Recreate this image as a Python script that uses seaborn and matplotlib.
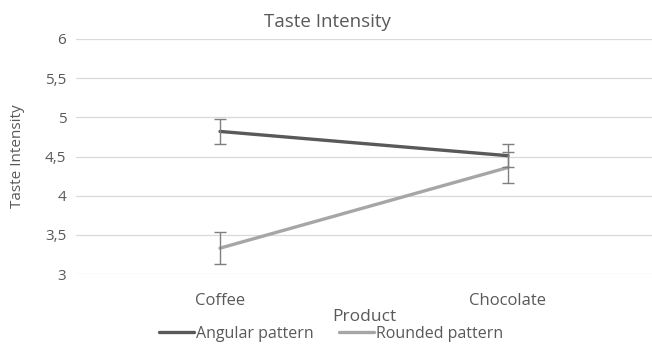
import numpy as np, pandas as pd
import matplotlib; matplotlib.use("Agg")
import matplotlib.pyplot as plt
from matplotlib.lines import Line2D
import seaborn as sns

products = ["Coffee", "Chocolate"]
angular = [4.82, 4.51]
angular_err = [0.16, 0.15]
rounded = [3.33, 4.36]
rounded_err = [0.20, 0.20]
yticks = [3, 3.5, 4, 4.5, 5, 5.5, 6]
ytick_labels = ["3", "3,5", "4", "4,5", "5", "5,5", "6"]

sns.set_style("white")
plt.rcParams["font.family"] = ["Open Sans", "DejaVu Sans"]
TXT = "#595959"

df = pd.DataFrame({
    "Product": products * 2,
    "Taste": angular + rounded,
    "err": angular_err + rounded_err,
    "Pattern": ["Angular pattern"] * 2 + ["Rounded pattern"] * 2,
})

fig = plt.figure(figsize=(6.52, 3.45), dpi=100)
ax = fig.add_axes([76/652, 1 - 274/345, 1 - 76/652, (274 - 39)/345])

palette = {"Angular pattern": "#595959", "Rounded pattern": "#A6A6A6"}
sns.lineplot(data=df, x="Product", y="Taste", hue="Pattern", palette=palette,
             linewidth=2.4, ax=ax, legend=False, sort=False)
for pat, g in df.groupby("Pattern"):
    xs = [products.index(p) for p in g["Product"]]
    ax.errorbar(xs, g["Taste"], yerr=g["err"], fmt="none", ecolor="#7F7F7F",
                elinewidth=1.0, capsize=4, capthick=1.0, zorder=5)

ax.set_xlim(-0.5, 1.5)
ax.set_ylim(3, 6)
ax.set_yticks(yticks)
ax.set_yticklabels(ytick_labels)
ax.yaxis.grid(True, color="#D9D9D9", linewidth=0.9)
ax.set_axisbelow(True)
for s in ax.spines.values():
    s.set_visible(False)
ax.tick_params(axis="y", length=0, labelsize=11, labelcolor=TXT, pad=7)
ax.tick_params(axis="x", length=0, labelsize=12, labelcolor=TXT, pad=14)
ax.set_xlabel("Product", fontsize=12.5, color=TXT, labelpad=0)
ax.set_ylabel("Taste Intensity", fontsize=11, color=TXT, labelpad=14)
fig.text(327/652, 1 - 22/345, "Taste Intensity", ha="center", va="center",
         fontsize=13.5, color=TXT)

handles = [Line2D([], [], color=palette[k], linewidth=2.4) for k in palette]
fig.legend(handles, list(palette), loc="center", bbox_to_anchor=(331/652, 1 - 334/345),
           ncol=2, frameon=False, fontsize=11.5, labelcolor=TXT,
           handlelength=2.2, handletextpad=0.1, columnspacing=1.6)

fig.savefig("out.png", dpi=100)
